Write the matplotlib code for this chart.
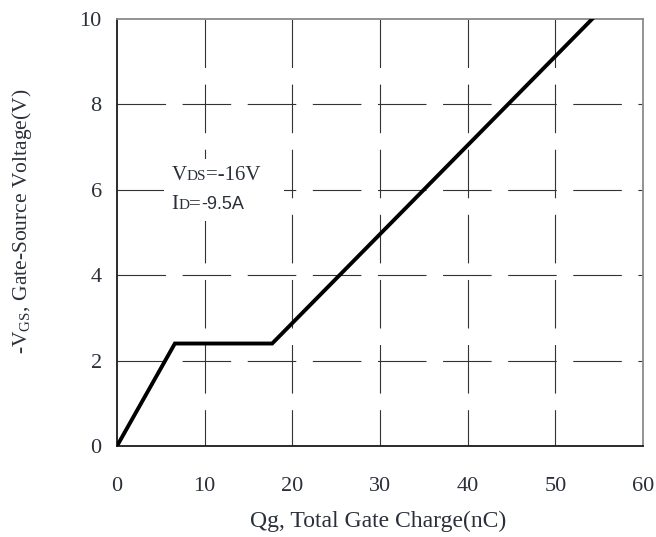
import matplotlib
matplotlib.use('Agg')
import matplotlib.pyplot as plt
from matplotlib.offsetbox import TextArea, HPacker, VPacker, DrawingArea, AnnotationBbox

# gate charge curve
qg = [0, 6.6, 17.7, 54.2]
vgs = [0, 2.4, 2.4, 10]

x_ticks = [0, 10, 20, 30, 40, 50, 60]
y_ticks = [0, 2, 4, 6, 8, 10]

serif = 'Liberation Serif'
sans = 'Liberation Sans'
txt_color = '#2a2f3a'

plt.rcParams['font.family'] = serif
plt.rcParams['mathtext.fontset'] = 'custom'
plt.rcParams['mathtext.rm'] = serif

fig = plt.figure(figsize=(6.56, 5.37), dpi=100)
ax = fig.add_axes([117 / 656, 1 - 446 / 537, 526 / 656, 427 / 537])

# dashed grid (vertical ones drawn top-down, like the original)
grid_kw = dict(color='#333333', lw=0.8, dashes=(43.7, 14.9), zorder=1)
for x in x_ticks[1:-1]:
    ax.plot([x, x], [y_ticks[-1], y_ticks[0]], **grid_kw)
for y in y_ticks[1:-1]:
    ax.plot([x_ticks[0], x_ticks[-1]], [y, y], **grid_kw)

ax.plot(qg, vgs, color='black', lw=2.8, solid_joinstyle='miter', zorder=3)

ax.set_xlim(0, 60)
ax.set_ylim(0, 10)
ax.set_xticks(x_ticks)
ax.set_yticks(y_ticks)
ax.tick_params(length=0, labelsize=16, labelcolor=txt_color)
ax.tick_params(axis='x', pad=22)
ax.tick_params(axis='y', pad=11)

for side in ['left', 'bottom']:
    ax.spines[side].set_color('#1a1a1a')
    ax.spines[side].set_linewidth(1.3)
for side in ['top', 'right']:
    ax.spines[side].set_color('#8a8a8a')
    ax.spines[side].set_linewidth(1.3)

ax.set_xlabel('Qg, Total Gate Charge(nC)', fontsize=17, color=txt_color)
ax.xaxis.set_label_coords(0.496, -0.152)
ax.set_ylabel(r'-V$_{\mathrm{GS}}$, Gate-Source Voltage(V)', fontsize=15.5, color=txt_color)
ax.yaxis.set_label_coords(-0.158, 0.525)

# test condition note on a white patch that hides the grid
def piece(s, size, family=serif):
    return TextArea(s, textprops=dict(fontsize=size, family=family, color=txt_color))

line1 = HPacker(children=[piece('V', 15), piece('DS', 11), piece('=-16V', 15), DrawingArea(12, 1)],
                align='baseline', pad=0, sep=0)
line2 = HPacker(children=[piece('I', 15), piece('D', 11), piece('=', 15), piece('-9.5A', 13, sans)],
                align='baseline', pad=0, sep=0)
note = VPacker(children=[line1, line2], align='left', pad=5, sep=7)
ab = AnnotationBbox(note, (5.4, 6.72), xycoords='data', frameon=True,
                    box_alignment=(0, 1), pad=0,
                    bboxprops=dict(facecolor='white', edgecolor='none'))
ab.set_zorder(2)
ax.add_artist(ab)

fig.savefig('out.png', dpi=100, facecolor='white')
